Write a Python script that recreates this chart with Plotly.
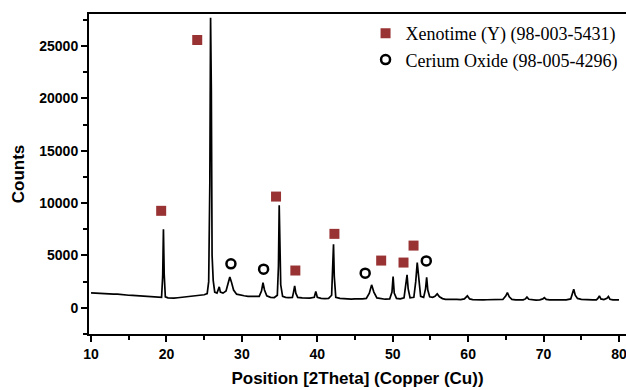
import plotly.graph_objects as go

# XRD profile (2theta, counts)
two_theta = [10.0, 10.5, 11.0, 11.5, 12.0, 12.5, 13.0, 13.5, 14.0, 14.5, 15.0, 15.5, 16.0, 16.5, 17.0, 17.5, 18.0, 18.5, 19.0,
             19.35, 19.5, 19.6, 19.7, 19.85, 20.2, 20.6, 21.0, 21.5, 22.0, 22.5, 23.0, 23.5, 24.0, 24.5, 25.0, 25.4,
             25.6, 25.75, 25.85, 25.95, 26.05, 26.2, 26.4, 26.7, 26.9, 27.0, 27.15, 27.5, 27.9, 28.2, 28.4, 28.6, 28.9,
             29.3, 29.8, 30.3, 30.8, 31.3, 31.8, 32.3, 32.6, 32.8, 33.0, 33.3, 33.8, 34.3, 34.7, 34.85, 34.95, 35.05,
             35.15, 35.4, 35.8, 36.2, 36.7, 36.85, 37.0, 37.15, 37.4, 38.0, 38.5, 39.0, 39.6, 39.8, 40.0, 40.5, 41.0,
             41.5, 41.9, 42.05, 42.15, 42.25, 42.45, 43.0, 43.5, 44.0, 44.5, 45.0, 45.5, 46.0, 46.5, 46.9, 47.2, 47.5,
             47.9, 48.5, 49.0, 49.6, 49.9, 50.05, 50.2, 50.5, 51.0, 51.5, 51.75, 51.9, 52.05, 52.3, 52.8, 53.05, 53.25,
             53.45, 53.7, 54.1, 54.35, 54.5, 54.65, 54.9, 55.3, 55.6, 55.9, 56.2, 56.6, 57.0, 57.5, 58.0, 58.5, 59.0,
             59.5, 59.9, 60.2, 60.6, 61.0, 61.5, 62.0, 62.5, 63.0, 63.5, 64.0, 64.6, 65.0, 65.2, 65.45, 65.8, 66.3,
             66.8, 67.3, 67.6, 67.8, 68.05, 68.5, 69.0, 69.5, 69.9, 70.1, 70.35, 70.8, 71.5, 72.0, 72.5, 73.0, 73.6,
             73.85, 74.0, 74.2, 74.5, 75.0, 75.5, 76.0, 76.5, 77.0, 77.2, 77.4, 77.6, 78.0, 78.4, 78.6, 78.8, 79.2,
             79.6, 80.0]
counts = [1430, 1400, 1420, 1350, 1380, 1320, 1300, 1310, 1260, 1240, 1200, 1180, 1150, 1120, 1100, 1060, 1050, 1000, 980,
          1000, 3000, 7500, 3200, 1050, 950, 900, 920, 960, 1000, 1040, 1080, 1100, 1150, 1200, 1250, 1350,
          2500, 11800, 27700, 20800, 5000, 2600, 1500, 1400, 1700, 2000, 1500, 1400, 1600, 2600, 2950, 2500, 1700,
          1300, 1200, 1150, 1100, 1080, 1050, 1100, 1600, 2400, 1700, 1150, 1000, 980, 1200, 4000, 9800, 6000,
          2200, 1100, 1000, 980, 1000, 1500, 2100, 1400, 1000, 950, 900, 920, 1000, 1550, 1000, 900, 880,
          900, 1200, 4500, 6070, 3000, 1000, 900, 850, 860, 820, 850, 830, 850, 900, 1400, 2190, 1500,
          950, 850, 820, 850, 1500, 2980, 1400, 900, 850, 950, 2200, 3140, 1800, 950, 1000, 2500, 4310,
          2600, 1100, 1000, 1800, 2920, 1700, 1050, 1000, 1100, 1330, 1050, 880, 800, 820, 780, 800, 790,
          850, 1140, 850, 780, 760, 780, 750, 770, 760, 780, 760, 800, 1150, 1460, 1050, 800, 760,
          770, 760, 850, 1020, 820, 760, 740, 760, 850, 980, 800, 750, 740, 760, 730, 760, 850,
          1400, 1780, 1200, 900, 800, 760, 770, 750, 760, 900, 1140, 850, 780, 900, 1080, 820, 760,
          740, 750]

# Phase markers
xenotime_x = [19.30, 24.08, 34.53, 37.09, 42.27, 48.47, 51.43, 52.76]
xenotime_y = [9260, 25570, 10620, 3560, 7060, 4510, 4320, 5940]
ceria_x = [28.55, 32.88, 46.35, 54.45]
ceria_y = [4200, 3690, 3310, 4480]

x_ticks = [10, 20, 30, 40, 50, 60, 70, 80]
y_ticks = [0, 5000, 10000, 15000, 20000, 25000]

fig = go.Figure()
fig.add_trace(go.Scatter(x=two_theta, y=counts, mode="lines",
                         line=dict(color="black", width=1.7), showlegend=False, hoverinfo="skip"))
fig.add_trace(go.Scatter(x=xenotime_x, y=xenotime_y, mode="markers", name="Xenotime (Y) (98-003-5431)",
                         marker=dict(symbol="square", size=10, color="#993333", line=dict(width=0))))
fig.add_trace(go.Scatter(x=ceria_x, y=ceria_y, mode="markers", name="Cerium Oxide (98-005-4296)",
                         marker=dict(symbol="circle-open", size=9, color="black", line=dict(width=2.5, color="black"))))

axis_font = dict(family="Liberation Sans, Arial", size=14, color="black", weight="bold")
title_font = dict(family="Liberation Sans, Arial", size=17, color="black", weight="bold")
fig.update_layout(
    width=626, height=390,
    margin=dict(l=89, r=0, t=14, b=56),
    paper_bgcolor="white", plot_bgcolor="white",
    legend=dict(x=0.515, y=0.997, xanchor="left", yanchor="top",
                font=dict(family="Liberation Serif, Times New Roman", size=18, color="black"),
                bgcolor="rgba(0,0,0,0)", itemwidth=30, tracegroupgap=0),
    xaxis=dict(range=[9.73, 80.93], tickvals=x_ticks, ticktext=[str(v) for v in x_ticks],
               showgrid=False, zeroline=False, showline=True, linecolor="black", linewidth=2,
               mirror=True, ticks="outside", ticklen=6, tickwidth=1.5, tickcolor="black",
               ticklabeloverflow="allow",
               minor=dict(dtick=5, tick0=5, ticks="outside", ticklen=4, tickwidth=1.5, tickcolor="black"),
               tickfont=axis_font,
               title=dict(text="Position [2Theta] (Copper (Cu))", standoff=11, font=title_font)),
    yaxis=dict(range=[-2500, 28050], tickvals=y_ticks, ticktext=[str(v) for v in y_ticks],
               showgrid=False, zeroline=False, showline=True, linecolor="black", linewidth=2,
               ticks="outside", ticklen=6, tickwidth=1.5, tickcolor="black",
               minor=dict(dtick=2500, tick0=0, ticks="outside", ticklen=4, tickwidth=1.5, tickcolor="black"),
               tickfont=axis_font,
               title=dict(text="Counts", standoff=10, font=title_font)),
)

fig.write_html("out.html", config={"displayModeBar": False},
               post_script="document.body.style.margin='0';document.body.style.overflow='hidden';")
